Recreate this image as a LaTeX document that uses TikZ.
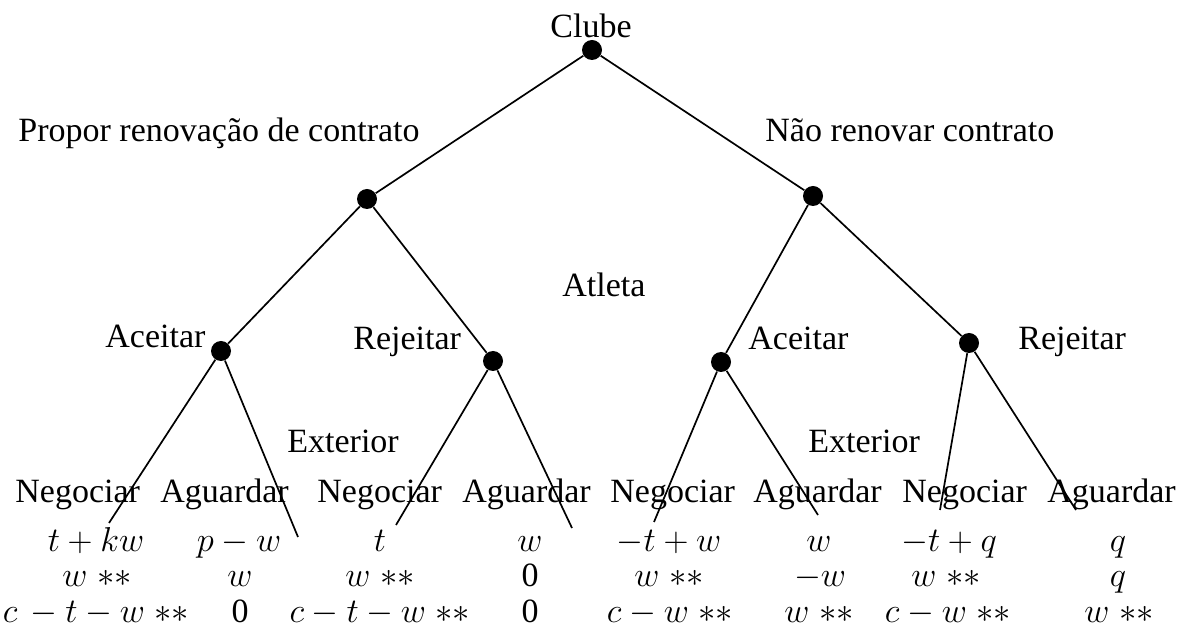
\documentclass[tikz,border=0pt]{standalone}
\usepackage{fontspec}
\setmainfont{Liberation Serif}
\begin{document}
\begin{tikzpicture}[x=0.5pt,y=-0.5pt,
  decision/.style={circle,fill=black,inner sep=0pt,minimum size=10pt},
  branch/.style={line width=0.85pt,black},
  lbl/.style={anchor=base west,inner sep=0pt,font=\fontsize{17}{20}\selectfont},
  pay/.style={anchor=base,inner sep=0pt,font=\fontsize{17}{20}\selectfont}]
\useasboundingbox (0,0) rectangle (1179,630);

% decision nodes
\node[decision] (club) at (592,50) {};
\node[decision] (prop) at (367,199) {};
\node[decision] (nren) at (813,196) {};
\node[decision] (acL) at (221,351) {};
\node[decision] (rjL) at (493,361) {};
\node[decision] (acR) at (721,362) {};
\node[decision] (rjR) at (969,343) {};

% terminal ends of the last branches
\coordinate (t1) at (109,523);
\coordinate (t2) at (298,537);
\coordinate (t3) at (396,525);
\coordinate (t4) at (572,528);
\coordinate (t5) at (654,522);
\coordinate (t6) at (818,515);
\coordinate (t7) at (940,510);
\coordinate (t8) at (1076,510);

% branches
\draw[branch] (club) -- (prop);
\draw[branch] (club) -- (nren);
\draw[branch] (prop) -- (acL);
\draw[branch] (prop) -- (rjL);
\draw[branch] (nren) -- (acR);
\draw[branch] (nren) -- (rjR);
\draw[branch] (acL) -- (t1);
\draw[branch] (acL) -- (t2);
\draw[branch] (rjL) -- (t3);
\draw[branch] (rjL) -- (t4);
\draw[branch] (acR) -- (t5);
\draw[branch] (acR) -- (t6);
\draw[branch] (rjR) -- (t7);
\draw[branch] (rjR) -- (t8);

% players and actions
\node[pay] (clube) at (591,38) {Clube};
\node[lbl] (propor) at (18,142) {Propor renovação de contrato};
\node[lbl] (naoren) at (765,142) {Não renovar contrato};
\node[lbl] (atleta) at (562,297) {Atleta};
\node[lbl] (aceL) at (105,348) {Aceitar};
\node[lbl] (rejL) at (353,350) {Rejeitar};
\node[lbl] (aceR) at (748,350) {Aceitar};
\node[lbl] (rejR) at (1018,350) {Rejeitar};
\node[lbl] (extL) at (287,453) {Exterior};
\node[lbl] (extR) at (808,453) {Exterior};

\node[lbl] (n1) at (15,503) {Negociar};
\node[lbl] (g1) at (160,503) {Aguardar};
\node[lbl] (n2) at (317,503) {Negociar};
\node[lbl] (g2) at (462,503) {Aguardar};
\node[lbl] (n3) at (610,503) {Negociar};
\node[lbl] (g3) at (753,503) {Aguardar};
\node[lbl] (n4) at (902,503) {Negociar};
\node[lbl] (g4) at (1047,503) {Aguardar};

% payoffs
\node[pay] (p11) at (96,552) {$t+kw$};
\node[pay] (p12) at (97,587) {$w\;{\ast}{\ast}$};
\node[pay] (p13) at (96,623) {$c\,-t-w\;{\ast}{\ast}$};

\node[pay] (p21) at (239,552) {$p-w$};
\node[pay] (p22) at (240,587) {$w$};
\node[pay] (p23) at (240,623) {0};

\node[pay] (p31) at (380,552) {$t$};
\node[pay] (p32) at (380,587) {$w\;{\ast}{\ast}$};
\node[pay] (p33) at (380,623) {$c-t-w\;{\ast}{\ast}$};

\node[pay] (p41) at (530,552) {$w$};
\node[pay] (p42) at (530,587) {0};
\node[pay] (p43) at (530,623) {0};

\node[pay] (p51) at (669,552) {$-t+w$};
\node[pay] (p52) at (669,587) {$w\;{\ast}{\ast}$};
\node[pay] (p53) at (670,623) {$c-w\;{\ast}{\ast}$};

\node[pay] (p61) at (819,552) {$w$};
\node[pay] (p62) at (820,587) {$-w$};
\node[pay] (p63) at (819,623) {$w\;{\ast}{\ast}$};

\node[pay] (p71) at (949,552) {$-t+q$};
\node[pay] (p72) at (946,587) {$w\;{\ast}{\ast}$};
\node[pay] (p73) at (948,623) {$c-w\;{\ast}{\ast}$};

\node[pay] (p81) at (1118,552) {$q$};
\node[pay] (p82) at (1118,587) {$q$};
\node[pay] (p83) at (1119,623) {$w\;{\ast}{\ast}$};
\end{tikzpicture}
\end{document}
